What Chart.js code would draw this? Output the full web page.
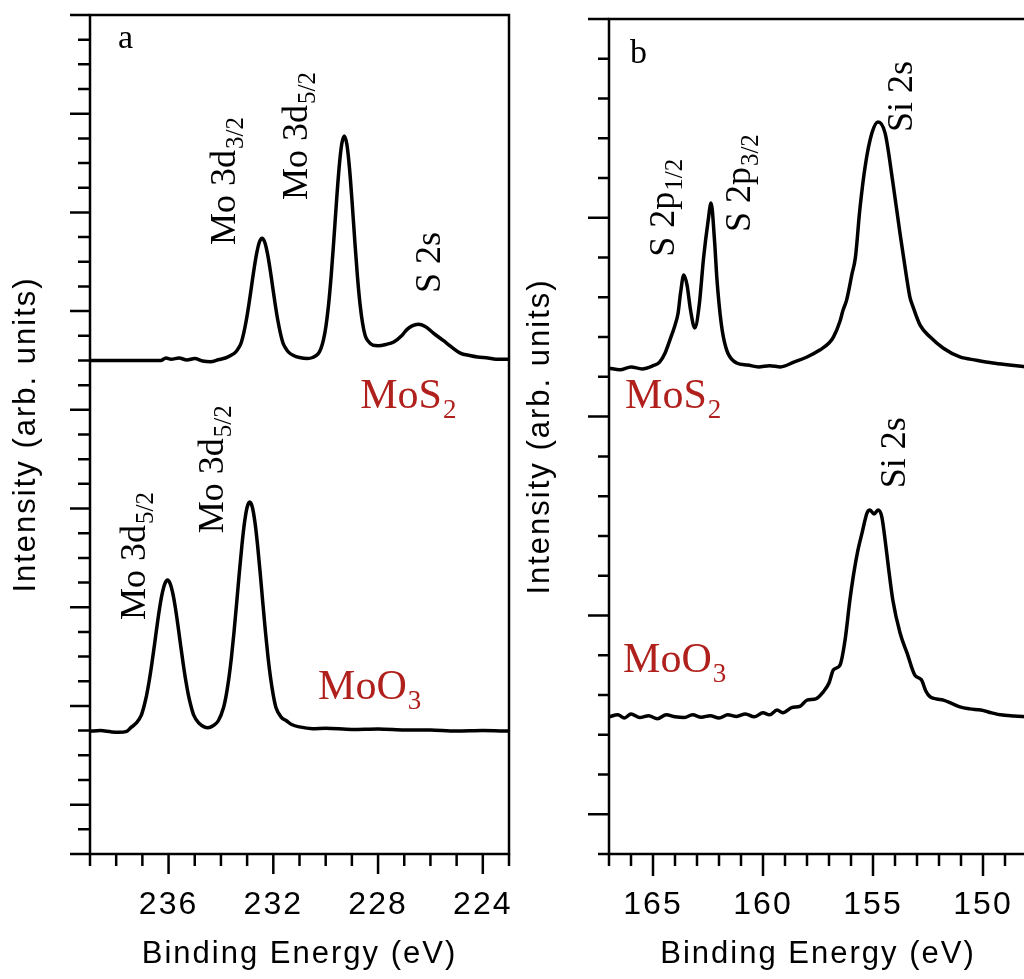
<!DOCTYPE html>
<html lang="en">
<head>
  <meta charset="UTF-8" />
  <title>XPS spectra - MoS2 / MoO3</title>
  <script src="https://cdn.jsdelivr.net/npm/chart.js@4.4.0/dist/chart.umd.min.js"></script>
  <style>
    body { margin: 0; background: #fff; overflow: hidden; }
    #wrap { position: relative; width: 1024px; height: 979px; overflow: hidden; }
    canvas { position: absolute; top: 0; }
  </style>
</head>
<body>
  <div id="wrap">
    <canvas id="chartA" width="530" height="979" style="left:0"></canvas>
    <canvas id="chartB" width="520" height="979" style="left:520px"></canvas>
  </div>

  <script>
    // Panel a: Mo 3d region (binding energy in eV, intensity in arb. units)
    const moEnergyS2 = [239.0, 238.0, 237.0, 236.3, 236.1, 235.9, 235.6, 235.3, 235.0, 234.7, 234.4, 234.1, 233.83, 233.63, 233.43, 233.33, 233.23, 233.13, 233.03, 232.93, 232.83, 232.73, 232.63, 232.53, 232.43, 232.33, 232.23, 232.13, 232.03, 231.93, 231.83, 231.73, 231.63, 231.53, 231.43, 231.23, 231.0, 230.7, 230.5, 230.29, 230.19, 230.09, 229.99, 229.89, 229.79, 229.69, 229.59, 229.49, 229.39, 229.29, 229.19, 229.09, 228.99, 228.89, 228.79, 228.69, 228.59, 228.49, 228.39, 228.2, 228.0, 227.7, 227.4, 227.1, 226.9, 226.7, 226.47, 226.2, 225.9, 225.5, 225.2, 224.86, 224.5, 224.2, 223.8, 223.5, 223.0];
    const moIntS2 = [20.0, 20.0, 20.0, 20.0, 20.1, 20.05, 20.1, 20.02, 20.08, 19.98, 19.95, 20.03, 20.1, 20.2, 20.35, 20.5, 20.71, 21.11, 21.64, 22.29, 23.02, 23.75, 24.37, 24.8, 24.95, 24.8, 24.37, 23.75, 23.02, 22.29, 21.64, 21.11, 20.71, 20.5, 20.35, 20.2, 20.12, 20.08, 20.12, 20.27, 20.46, 20.81, 21.39, 22.26, 23.44, 24.87, 26.4, 27.78, 28.75, 29.1, 28.75, 27.78, 26.4, 24.87, 23.44, 22.3, 21.5, 21.0, 20.8, 20.62, 20.6, 20.65, 20.75, 21.0, 21.25, 21.4, 21.47, 21.38, 21.12, 20.8, 20.55, 20.3, 20.2, 20.14, 20.1, 20.05, 20.05];

    const moEnergyO3 = [239.0, 238.6, 238.2, 237.9, 237.6, 237.44, 237.24, 237.04, 236.94, 236.84, 236.74, 236.64, 236.54, 236.44, 236.34, 236.24, 236.14, 236.04, 235.94, 235.84, 235.74, 235.64, 235.54, 235.44, 235.34, 235.24, 235.14, 235.04, 234.84, 234.64, 234.5, 234.3, 234.1, 233.9, 233.8, 233.7, 233.6, 233.5, 233.4, 233.3, 233.2, 233.1, 233.0, 232.9, 232.8, 232.7, 232.6, 232.5, 232.4, 232.3, 232.2, 232.1, 232.0, 231.9, 231.7, 231.5, 231.3, 231.0, 230.5, 230.0, 229.0, 228.0, 227.0, 226.0, 225.0, 224.0, 223.0];
    const moIntO3 = [4.98, 5.0, 4.95, 4.93, 4.97, 5.12, 5.3, 5.63, 5.98, 6.43, 7.01, 7.7, 8.46, 9.25, 9.98, 10.57, 10.96, 11.1, 10.96, 10.57, 9.98, 9.25, 8.46, 7.7, 7.01, 6.43, 5.98, 5.63, 5.3, 5.15, 5.12, 5.2, 5.4, 5.94, 6.43, 7.1, 7.96, 9.0, 10.17, 11.37, 12.5, 13.43, 14.05, 14.26, 14.05, 13.43, 12.5, 11.37, 10.17, 9.0, 7.96, 7.1, 6.43, 5.94, 5.55, 5.4, 5.25, 5.15, 5.08, 5.1, 5.05, 5.07, 5.03, 5.02, 4.98, 5.0, 4.98];

    // Panel b: S 2p / Si 2s region
    const sEnergyS2 = [167.0, 166.5, 166.0, 165.5, 165.0, 164.7, 164.45, 164.23, 164.0, 163.86, 163.75, 163.6, 163.45, 163.3, 163.1, 162.9, 162.7, 162.5, 162.36, 162.2, 162.1, 162.0, 161.9, 161.8, 161.6, 161.2, 160.7, 160.2, 159.7, 159.2, 158.6, 158.0, 157.4, 157.0, 156.8, 156.5, 156.36, 156.2, 155.95, 155.8, 155.6, 155.36, 155.05, 154.77, 154.45, 154.1, 153.77, 153.5, 153.32, 153.18, 152.86, 152.4, 151.8, 151.05, 150.3, 149.55, 148.8, 148.0];
    const sIntS2 = [12.22, 12.18, 12.25, 12.2, 12.28, 12.37, 12.6, 12.93, 13.3, 13.6, 14.1, 14.56, 14.3, 13.7, 13.23, 13.8, 15.0, 15.9, 16.37, 15.4, 14.5, 13.85, 13.35, 13.0, 12.6, 12.35, 12.3, 12.25, 12.28, 12.25, 12.37, 12.5, 12.68, 12.85, 13.0, 13.4, 13.68, 13.93, 14.6, 15.0, 16.2, 17.28, 18.13, 18.41, 18.13, 16.9, 15.6, 14.6, 14.0, 13.76, 13.3, 13.0, 12.72, 12.5, 12.42, 12.35, 12.3, 12.25];

    const sEnergyO3 = [167.0, 166.6, 166.3, 166.0, 165.6, 165.2, 164.8, 164.4, 164.0, 163.6, 163.2, 162.8, 162.4, 162.0, 161.6, 161.2, 160.8, 160.4, 160.0, 159.7, 159.36, 159.1, 158.7, 158.3, 158.0, 157.6, 157.27, 157.0, 156.8, 156.5, 156.27, 156.05, 155.9, 155.7, 155.5, 155.27, 155.14, 154.95, 154.77, 154.6, 154.45, 154.3, 154.1, 153.77, 153.45, 153.1, 152.8, 152.6, 152.4, 152.1, 151.8, 151.4, 151.05, 150.6, 150.1, 149.6, 149.2, 148.6, 148.0];
    const sIntO3 = [3.45, 3.5, 3.42, 3.52, 3.43, 3.48, 3.4, 3.5, 3.45, 3.43, 3.5, 3.44, 3.48, 3.42, 3.5, 3.46, 3.52, 3.45, 3.55, 3.5, 3.62, 3.55, 3.68, 3.72, 3.87, 3.9, 4.07, 4.3, 4.63, 4.75, 5.38, 6.39, 6.97, 7.6, 8.07, 8.58, 8.65, 8.55, 8.65, 8.48, 7.9, 7.22, 6.39, 5.56, 5.05, 4.5, 4.38, 4.1, 3.95, 3.9, 3.87, 3.78, 3.7, 3.65, 3.62, 3.55, 3.5, 3.47, 3.45];

    // tick labels shown on the x axes
    const xLabelsA = [236, 232, 228, 224];
    const xLabelsB = [165, 160, 155, 150];

    // peak annotations: text, subscript
    const peakTextA = [['a', ''], ['Mo 3d', '3/2'], ['Mo 3d', '5/2'], ['S 2s', ''], ['MoS', '2'], ['Mo 3d', '5/2'], ['Mo 3d', '5/2'], ['MoO', '3']];
    const peakTextB = [['b', ''], ['S 2p', '1/2'], ['S 2p', '3/2'], ['Si 2s', ''], ['MoS', '2'], ['Si 2s', ''], ['MoO', '3']];

    const RED = '#b0201c';
    const sansFont = "'Liberation Sans', Arial, sans-serif";
    const serifFont = "'Liberation Serif', 'Times New Roman', serif";
    Chart.defaults.font.family = sansFont;
    Chart.defaults.color = '#000';

    const toPoints = (xs, ys) => xs.map((x, i) => ({ x: x, y: ys[i] }));

    // label styles
    const peakStyle = { rotate: true, size: 36, subSize: 25, drop: 8, color: '#000' };
    const nameStyle = { rotate: false, size: 42, subSize: 27, drop: 10, color: RED };
    const panelStyle = { rotate: false, size: 34, subSize: 0, drop: 0, color: '#000' };

    function drawLabel(ctx, px, py, text, sub, st) {
      ctx.save();
      ctx.translate(px, py);
      if (st.rotate) ctx.rotate(-Math.PI / 2);
      ctx.fillStyle = st.color;
      ctx.textAlign = 'left';
      ctx.textBaseline = 'alphabetic';
      ctx.font = st.size + 'px ' + serifFont;
      ctx.fillText(text, 0, 0);
      if (sub) {
        const w = ctx.measureText(text).width;
        ctx.font = st.subSize + 'px ' + serifFont;
        ctx.fillText(sub, w + 1, st.drop);
      }
      ctx.restore();
    }

    // frame, outward ticks of two lengths and peak labels
    function decor(spec) {
      return {
        id: 'decor',
        beforeDraw(chart) { chart.ctx.letterSpacing = '2px'; },
        afterDraw(chart) {
          const { ctx, chartArea: a } = chart;
          const x = chart.scales.x, y = chart.scales.y;
          ctx.save();
          ctx.letterSpacing = '0px';
          ctx.strokeStyle = '#000';
          ctx.lineWidth = 2.5;
          ctx.strokeRect(a.left, a.top, a.right - a.left, a.bottom - a.top);
          ctx.beginPath();
          x.ticks.forEach(t => {
            const px = x.getPixelForValue(t.value);
            const len = spec.xMajor(t.value) ? spec.xLen[0] : spec.xLen[1];
            ctx.moveTo(px, a.bottom);
            ctx.lineTo(px, a.bottom + len);
          });
          y.ticks.forEach(t => {
            const py = y.getPixelForValue(t.value);
            const len = spec.yMajor(t.value) ? spec.yLen[0] : spec.yLen[1];
            ctx.moveTo(a.left, py);
            ctx.lineTo(a.left - len, py);
          });
          ctx.stroke();
          spec.texts.forEach((tx, i) => {
            const p = spec.spots[i];
            drawLabel(ctx, x.getPixelForValue(p[0]), y.getPixelForValue(p[1]), tx[0], tx[1], spec.styles[i]);
          });
          ctx.restore();
        }
      };
    }

    function makeChart(id, sets, xr, yr, xLabels, geom, spec) {
      new Chart(document.getElementById(id), {
        type: 'line',
        data: {
          datasets: sets.map(s => ({
            data: s,
            borderColor: '#000',
            borderWidth: 3.5,
            pointRadius: 0,
            cubicInterpolationMode: 'monotone',
            fill: false
          }))
        },
        options: {
          responsive: false,
          animation: false,
          devicePixelRatio: 1,
          layout: { padding: geom.padding, autoPadding: false },
          plugins: { legend: { display: false }, tooltip: { enabled: false } },
          scales: {
            x: {
              type: 'linear', reverse: true, min: xr[0], max: xr[1],
              // invisible tick marks only push the labels down; visible ticks are drawn by decor
              grid: { display: true, drawOnChartArea: false, drawTicks: true, tickLength: 32, tickColor: 'rgba(0,0,0,0)' },
              border: { display: false },
              ticks: {
                stepSize: 1, autoSkip: false, maxRotation: 0, includeBounds: false,
                padding: 0, font: { size: 32 },
                callback: v => xLabels.includes(v) ? String(v) : ''
              },
              title: { display: true, text: 'Binding Energy (eV)', font: { size: 31 }, padding: { top: 4, bottom: 6 } },
              afterFit: s => { s.height = geom.xHeight; }
            },
            y: {
              type: 'linear', min: yr[0], max: yr[1],
              grid: { display: false }, border: { display: false },
              ticks: { display: false, stepSize: 1, maxTicksLimit: 100 },
              title: { display: true, text: 'Intensity (arb. units)', font: { size: 31 }, padding: { top: geom.yTitlePad, bottom: 0 } },
              afterFit: s => { s.width = geom.yWidth; }
            }
          }
        },
        plugins: [decor(spec)]
      });
    }

    makeChart('chartA',
      [toPoints(moEnergyS2, moIntS2), toPoints(moEnergyO3, moIntO3)],
      [223, 239], [0, 34], xLabelsA,
      { padding: { top: 15, right: 21, left: 0, bottom: 0 }, xHeight: 125, yWidth: 90, yTitlePad: 8 },
      {
        xMajor: v => v % 4 === 0,
        yMajor: v => v === 0 || (v - 2) % 4 === 0,
        xLen: [20, 12], yLen: [20, 12],
        texts: peakTextA,
        spots: [[237.93, 32.66], [233.46, 24.68], [230.72, 26.5], [225.63, 22.73], [228.68, 18.07], [236.9, 9.48], [233.92, 13.0], [230.29, 6.28]],
        styles: [panelStyle, peakStyle, peakStyle, peakStyle, nameStyle, peakStyle, peakStyle, nameStyle]
      });

    makeChart('chartB',
      [toPoints(sEnergyS2, sIntS2), toPoints(sEnergyO3, sIntO3)],
      [148, 167], [0, 21], xLabelsB,
      { padding: { top: 19, right: 13, left: 0, bottom: 0 }, xHeight: 125, yWidth: 89, yTitlePad: 2 },
      {
        xMajor: v => v % 5 === 0,
        yMajor: v => (v - 1) % 5 === 0,
        xLen: [22, 12], yLen: [21, 11],
        texts: peakTextB,
        spots: [[166.05, 19.9], [164.05, 15.02], [160.59, 15.64], [153.23, 18.16], [166.27, 11.22], [153.55, 9.2], [166.36, 4.58]],
        styles: [panelStyle, peakStyle, peakStyle, peakStyle, nameStyle, peakStyle, nameStyle]
      });
  </script>
</body>
</html>
